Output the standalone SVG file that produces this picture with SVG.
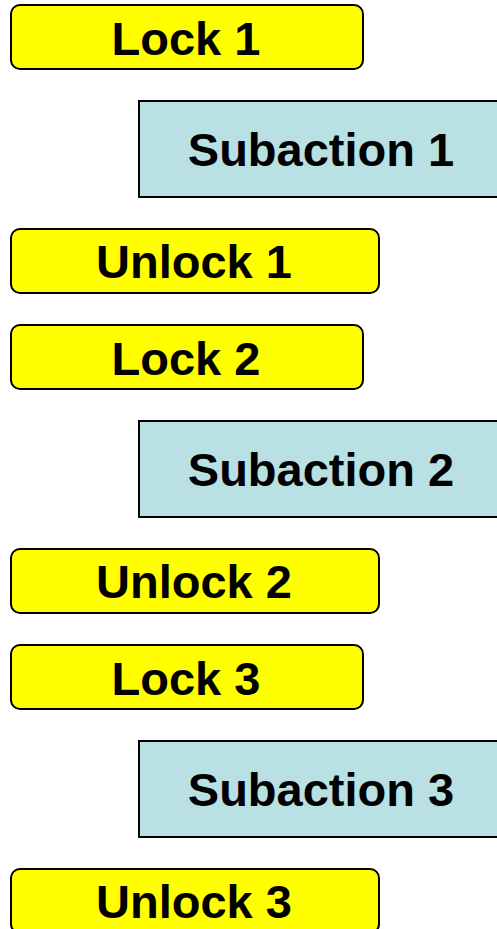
<svg xmlns="http://www.w3.org/2000/svg" width="497" height="929" viewBox="0 0 497 929">
  <style>
    .lock { fill: #FFFF00; stroke: #000; stroke-width: 2; }
    .sub { fill: #B9E0E3; stroke: #000; stroke-width: 2; }
    .lbl { font-family: "Liberation Sans", Arial, sans-serif; font-weight: bold; font-size: 47px; fill: #000; text-anchor: middle; }
  </style>
  <rect width="497" height="929" fill="#fff"/>
  <g id="connectors"/>

  <g id="lock1"><rect class="lock" x="11" y="5" width="352" height="64" rx="9"/><text class="lbl" x="186" y="55">Lock 1</text></g>
  <g id="subaction1"><rect class="sub" x="139" y="101" width="362" height="96"/><text class="lbl" x="321" y="166">Subaction 1</text></g>
  <g id="unlock1"><rect class="lock" x="11" y="229" width="368" height="64" rx="9"/><text class="lbl" x="194" y="278">Unlock 1</text></g>

  <g id="lock2"><rect class="lock" x="11" y="325" width="352" height="64" rx="9"/><text class="lbl" x="186" y="375">Lock 2</text></g>
  <g id="subaction2"><rect class="sub" x="139" y="421" width="362" height="96"/><text class="lbl" x="321" y="486">Subaction 2</text></g>
  <g id="unlock2"><rect class="lock" x="11" y="549" width="368" height="64" rx="9"/><text class="lbl" x="194" y="598">Unlock 2</text></g>

  <g id="lock3"><rect class="lock" x="11" y="645" width="352" height="64" rx="9"/><text class="lbl" x="186" y="695">Lock 3</text></g>
  <g id="subaction3"><rect class="sub" x="139" y="741" width="362" height="96"/><text class="lbl" x="321" y="806">Subaction 3</text></g>
  <g id="unlock3"><rect class="lock" x="11" y="869" width="368" height="64" rx="9"/><text class="lbl" x="194" y="918">Unlock 3</text></g>
</svg>
